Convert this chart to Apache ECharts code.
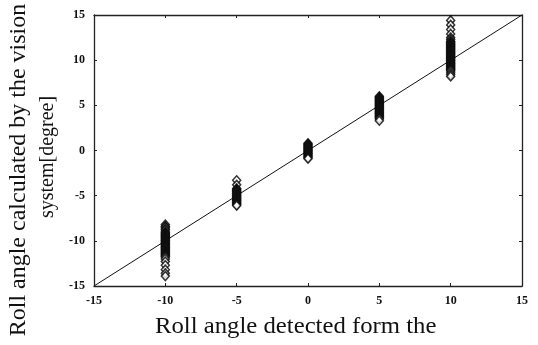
<!DOCTYPE html>
<html><head><meta charset="utf-8">
<script src="https://cdn.jsdelivr.net/npm/echarts@6/dist/echarts.min.js"></script>
<style>html,body{margin:0;padding:0;background:#fff}#c{width:538px;height:345px}</style>
</head><body><div id="c"></div>
<script>
const xTicks = [-15, -10, -5, 0, 5, 10, 15];
const yTicks = [-15, -10, -5, 0, 5, 10, 15];
const groupX = [-10, -5, 0, 5, 10];
const valsM10 = [-8.2,-8.4,-8.5,-8.7,-8.8,-9.0,-9.1,-9.2,-9.3,-9.4,-9.5,-9.6,-9.7,-9.8,-9.9,-10.0,-10.1,-10.2,-10.3,-10.4,-10.5,-10.6,-10.7,-10.8,-10.9,-11.0,-11.1,-11.2,-11.3,-11.4,-11.5,-11.6,-11.7,-11.8,-12.0,-12.3,-12.7,-13.2,-13.6,-13.9];
const valsM5 = [-3.3,-3.8,-4.2,-4.3,-4.4,-4.5,-4.6,-4.7,-4.8,-4.9,-5.0,-5.1,-5.2,-5.3,-5.4,-5.5,-5.6,-5.7,-5.8,-5.9,-6.0,-6.1];
const vals0 = [0.8,0.7,0.6,0.5,0.4,0.3,0.2,0.1,0.0,-0.1,-0.2,-0.3,-0.4,-0.5,-0.6,-0.7,-0.8,-0.9];
const vals5 = [6.0,5.9,5.8,5.7,5.6,5.5,5.4,5.3,5.2,5.1,5.0,4.9,4.8,4.7,4.6,4.5,4.4,4.3,4.2,4.1,4.0,3.9,3.8,3.7,3.6,3.5,3.3];
const vals10 = [14.4,13.9,13.4,12.9,12.5,12.3,12.1,12.0,11.9,11.8,11.7,11.6,11.5,11.4,11.3,11.2,11.1,11.0,10.9,10.8,10.7,10.6,10.5,10.4,10.3,10.2,10.1,10.0,9.9,9.8,9.7,9.6,9.5,9.4,9.3,9.2,9.1,9.0,8.9,8.8,8.6,8.4,8.2];
const groups = [valsM10, valsM5, vals0, vals5, vals10];
const refLine = [[-15, -15], [15, 15]];

const pts = [];
groups.forEach((g, i) => g.forEach(v => pts.push([groupX[i], v])));

const font = 'Liberation Serif';
const chart = echarts.init(document.getElementById('c'));
const axCommon = {
  min: -15, max: 15, interval: 5,
  axisLine: {show: true, onZero: false, lineStyle: {color: '#222', width: 1.3}},
  axisTick: {show: true, inside: true, length: 3, lineStyle: {color: '#222'}},
  splitLine: {show: false}
};
chart.setOption({
  animation: false,
  grid: {left: 94, right: 16, top: 15, bottom: 59},
  xAxis: [
    Object.assign({}, axCommon, {type: 'value', position: 'bottom',
      axisLabel: {color: '#111', fontFamily: font, fontWeight: 'bold', fontSize: 12, margin: 9}}),
    Object.assign({}, axCommon, {type: 'value', position: 'top', axisLabel: {show: false}})
  ],
  yAxis: [
    Object.assign({}, axCommon, {type: 'value', position: 'left',
      axisLabel: {color: '#111', fontFamily: font, fontWeight: 'bold', fontSize: 12, margin: 9}}),
    Object.assign({}, axCommon, {type: 'value', position: 'right', axisLabel: {show: false}})
  ],
  graphic: [
    {type: 'text', x: 155, y: 327, scaleX: 1.03, style: {text: 'Roll angle detected form the', font: '24px "Liberation Serif"', fill: '#111', align: 'left', verticalAlign: 'middle'}},
    {type: 'text', x: 19, y: 170, rotation: Math.PI / 2, style: {text: 'Roll angle calculated by the vision', font: '24px "Liberation Serif"', fill: '#111', align: 'center', verticalAlign: 'middle'}},
    {type: 'text', x: 48, y: 157, rotation: Math.PI / 2, style: {text: 'system[degree]', font: '20px "Liberation Serif"', fill: '#111', align: 'center', verticalAlign: 'middle'}}
  ],
  series: [
    {type: 'line', data: refLine, symbol: 'none', lineStyle: {color: '#111', width: 1}, z: 1, xAxisIndex: 0, yAxisIndex: 0},
    {type: 'scatter', data: pts, symbol: 'diamond', symbolSize: [8, 9],
      itemStyle: {color: '#fff', borderColor: '#000', borderWidth: 1.5}, z: 2}
  ]
});
</script></body></html>
